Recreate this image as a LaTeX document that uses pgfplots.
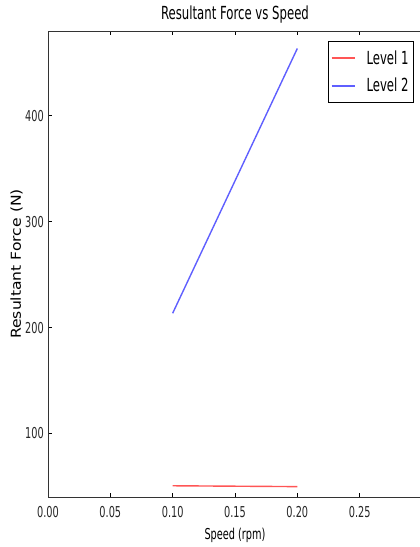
\documentclass[border=0pt]{standalone}
\usepackage{pgfplots}
\pgfplotsset{compat=1.18}
\usepackage{fontspec}
\setmainfont[FakeStretch=0.65]{DejaVu Sans}
\newfontfamily\ylabfont{DejaVu Sans}
\definecolor{lvone}{RGB}{255,85,85}
\definecolor{lvtwo}{RGB}{95,95,255}
\begin{document}
\begin{tikzpicture}
\useasboundingbox (0,0) rectangle (420pt,547pt);
\clip (0,0) rectangle (420pt,547pt);
\begin{axis}[
  at={(48pt,50pt)}, anchor=south west,
  scale only axis, width=374pt, height=466pt,
  xmin=0, xmax=0.3, ymin=40, ymax=480,
  xtick={0,0.05,0.1,0.15,0.2,0.25,0.3},
  xticklabels={0.00,0.05,0.10,0.15,0.20,0.25,},
  ytick={100,200,300,400},
  ytick pos=left,
  /pgf/number format/assume math mode=true,
  tick align=inside, major tick length=4pt,
  every tick/.style={black, line width=0.6pt},
  axis line style={black!80, line width=0.9pt},
  ticklabel style={font=\fontsize{15}{18}\selectfont, text=black!85},
  xticklabel style={anchor=base, inner sep=0pt, yshift=-20pt},
  yticklabel style={anchor=east, inner sep=0pt, xshift=-4pt},
  title={Resultant Force vs Speed},
  title style={at={(axis description cs:0.5,1)}, anchor=base, yshift=6pt, font=\fontsize{18}{20}\selectfont},
  xlabel={Speed (rpm)},
  xlabel style={at={(axis description cs:0.5,0)}, anchor=base, yshift=-42pt, font=\fontsize{15}{18}\selectfont},
  ylabel={\scalebox{1}[0.88]{\ylabfont\fontsize{15.6}{18}\selectfont Resultant Force (N)}},
  ylabel style={at={(axis description cs:0,0.5)}, anchor=base, yshift=27pt},
  legend style={at={(axis description cs:0.9786,0.9785)}, anchor=north east,
    draw=black, line width=0.9pt, font=\fontsize{18}{20}\selectfont,
    inner xsep=3pt, inner ysep=7pt, row sep=8.6pt,
    /tikz/every odd column/.append style={column sep=9pt}},
  legend cell align=left,
  legend image code/.code={\path (-5pt,0pt) -- (18pt,0pt);\draw[#1, line width=1.6pt] (0pt,0pt) -- (18pt,0pt);},
]
\addplot[lvone, line width=1.4pt] coordinates {(0.1,50.6) (0.2,49.8)};
\addlegendentry{Level 1}
\addplot[lvtwo, line width=1.4pt] coordinates {(0.1,213.5) (0.2,463.5)};
\addlegendentry{Level 2}
\end{axis}
\end{tikzpicture}
\end{document}
